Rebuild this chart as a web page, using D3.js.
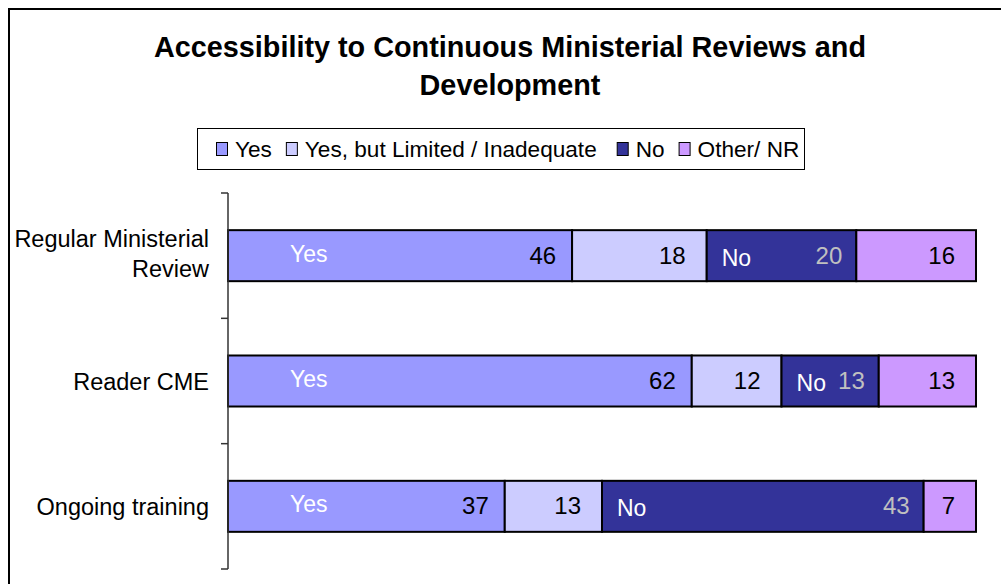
<!DOCTYPE html>
<html><head><meta charset="utf-8">
<script src="https://cdn.jsdelivr.net/npm/d3@7"></script>
<style>html,body{margin:0;padding:0;background:#fff;} svg{display:block;}</style>
</head><body>
<svg id="chart" width="1001" height="584"></svg>
<script>
const titleLines = ["Accessibility to Continuous Ministerial Reviews and", "Development"];
const categories = ["Regular Ministerial Review", "Reader CME", "Ongoing training"];
const categoryLines = [["Regular Ministerial", "Review"], ["Reader CME"], ["Ongoing training"]];
const seriesNames = ["Yes", "Yes, but Limited / Inadequate", "No", "Other/ NR"];
const yesValues = [46, 62, 37];
const limitedValues = [18, 12, 13];
const noValues = [20, 13, 43];
const otherValues = [16, 13, 7];
const colors = ["#9999FF", "#CCCCFF", "#333399", "#CC99FF"];
const valueColors = ["#000000", "#000000", "#C0C0C0", "#000000"];
const inBarNames = ["Yes", null, "No", null];

const FONT = "'Liberation Sans', Arial, Helvetica, sans-serif";
const svg = d3.select("#chart");
svg.append("rect").attr("width", 1001).attr("height", 584).attr("fill", "#fff");
svg.append("rect").attr("x", 9).attr("y", 9).attr("width", 1100).attr("height", 700)
  .attr("fill", "none").attr("stroke", "#000").attr("stroke-width", 2);

// title
svg.append("g").selectAll("text").data(titleLines).join("text")
  .attr("x", 510).attr("y", (d, i) => 57 + i * 38)
  .attr("text-anchor", "middle").attr("font-family", FONT).attr("font-weight", "bold")
  .attr("font-size", 28.8).attr("fill", "#000").text(d => d);

// legend
const lg = svg.append("g");
lg.append("rect").attr("x", 197.5).attr("y", 128.5).attr("width", 607).attr("height", 41)
  .attr("fill", "#fff").attr("stroke", "#000").attr("stroke-width", 1);
let lx = 216;
seriesNames.forEach((name, i) => {
  lg.append("rect").attr("x", lx + 0.5).attr("y", 142.5).attr("width", 11).attr("height", 13)
    .attr("fill", colors[i]).attr("stroke", "#000").attr("stroke-width", 1);
  const t = lg.append("text").attr("x", lx + 19).attr("y", 157)
    .attr("font-family", FONT).attr("font-size", 22.6).attr("fill", "#000").text(name);
  const w = t.node().getComputedTextLength();
  lx += 19 + w + (i === 1 ? 20 : 14);
});

// scales
const x = d3.scaleLinear().domain([0, 100]).range([228, 976]);
const y = d3.scaleBand().domain(categories).range([193, 569]).paddingInner(0.593).paddingOuter(0.2965);

const seriesData = [yesValues, limitedValues, noValues, otherValues];
const rows = categories.map((c, ci) => {
  let acc = 0;
  return seriesData.map((arr, si) => {
    const seg = {cat: c, si, v: arr[ci], x0: acc, x1: acc + arr[ci]};
    acc += arr[ci];
    return seg;
  });
}).flat();

const g = svg.append("g");
g.selectAll("rect.bar").data(rows).join("rect").attr("class", "bar")
  .attr("x", d => x(d.x0)).attr("y", d => y(d.cat))
  .attr("width", d => x(d.x1) - x(d.x0)).attr("height", y.bandwidth())
  .attr("fill", d => colors[d.si]).attr("stroke", "#000").attr("stroke-width", 2);

// value labels
const valPad = [16, 21, 14, 21];
g.selectAll("text.val").data(rows).join("text").attr("class", "val")
  .attr("x", d => x(d.x1) - valPad[d.si]).attr("y", d => y(d.cat) + y.bandwidth() / 2 + 8)
  .attr("text-anchor", "end").attr("font-family", FONT).attr("font-size", 24)
  .attr("fill", d => valueColors[d.si]).text(d => d.v);

// in-bar series names
g.selectAll("text.nm").data(rows.filter(d => inBarNames[d.si])).join("text").attr("class", "nm")
  .attr("x", d => x(d.x0) + (d.si === 0 ? 62 : 15))
  .attr("y", d => y(d.cat) + y.bandwidth() / 2 + (d.si === 0 ? 6 : 10))
  .attr("font-family", FONT).attr("font-size", 23).attr("fill", "#fff")
  .text(d => inBarNames[d.si]);

// axis
const ax = svg.append("g");
ax.append("line").attr("x1", 228).attr("x2", 228).attr("y1", 193).attr("y2", 569)
  .attr("stroke", "#333").attr("stroke-width", 1.5);
const bounds = d3.range(categories.length + 1).map(i => y.range()[0] + i * y.step());
ax.selectAll("line.tick").data(bounds).join("line").attr("class", "tick")
  .attr("x1", 221).attr("x2", 228).attr("y1", d => d).attr("y2", d => d)
  .attr("stroke", "#333").attr("stroke-width", 1.5);

// category labels
categories.forEach((c, ci) => {
  const lines = categoryLines[ci];
  const cy = y(c) + y.bandwidth() / 2;
  const lh = 30;
  lines.forEach((ln, li) => {
    svg.append("text").attr("x", 209)
      .attr("y", cy + 8.5 + (li - (lines.length - 1) / 2) * lh - (lines.length > 1 ? 2 : 0))
      .attr("text-anchor", "end").attr("font-family", FONT).attr("font-size", 23.5)
      .attr("fill", "#000").text(ln);
  });
});
</script>
</body></html>
